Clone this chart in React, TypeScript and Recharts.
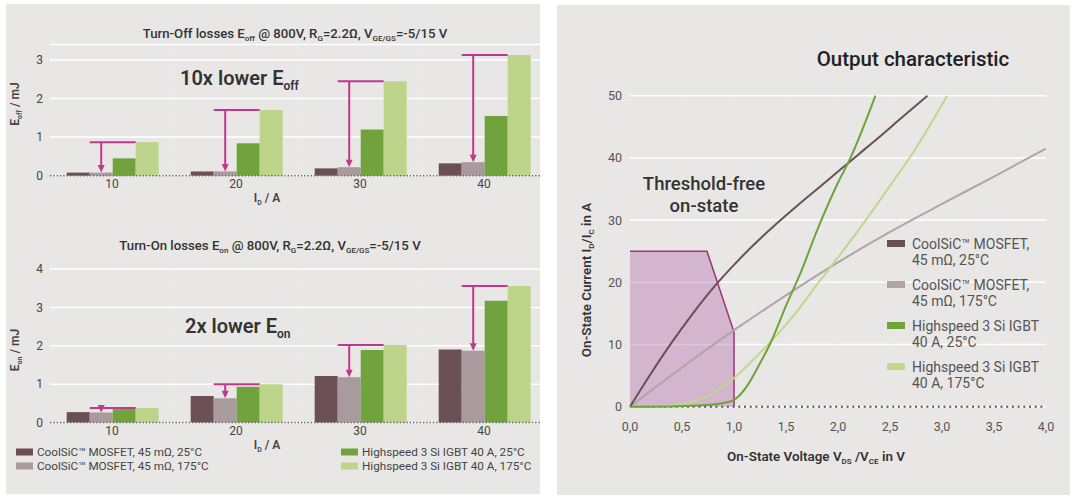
import React from "react";
import {
  BarChart,
  Bar,
  ComposedChart,
  Line,
  Area,
  XAxis,
  YAxis,
  CartesianGrid,
  ReferenceLine,
} from "recharts";

// switching losses, mJ, per drain current
const currents = ["10", "20", "30", "40"];
const eoffMos25 = [0.08, 0.11, 0.19, 0.32];
const eoffMos175 = [0.08, 0.11, 0.22, 0.35];
const eoffIgbt25 = [0.45, 0.84, 1.2, 1.55];
const eoffIgbt175 = [0.87, 1.7, 2.45, 3.13];
const eonMos25 = [0.27, 0.69, 1.21, 1.9];
const eonMos175 = [0.26, 0.63, 1.18, 1.87];
const eonIgbt25 = [0.35, 0.93, 1.89, 3.17];
const eonIgbt175 = [0.38, 1.0, 2.02, 3.56];

// output characteristic, [V, A]
const mos25Curve = [[0, 0], [0.2, 5.3], [0.4, 10.3], [0.6, 14.9], [0.8, 19.1], [1.0, 22.8], [1.2, 26.2], [1.4, 29.3], [1.6, 32.2], [1.8, 35.0], [2.0, 37.8], [2.2, 40.6], [2.4, 43.4], [2.6, 46.3], [2.86, 50]];
const mos175Curve = [[0, 0], [0.5, 6.3], [1.0, 12.3], [1.5, 17.9], [2.0, 23.2], [2.5, 28.1], [3.0, 32.6], [3.5, 37.0], [4.0, 41.5]];
const igbt25Curve = [[0, 0], [0.4, 0.05], [0.77, 0.3], [0.9, 0.6], [1.0, 1.1], [1.12, 3.2], [1.25, 7], [1.35, 10.2], [1.51, 16.6], [1.64, 21.5], [1.8, 28.4], [2.0, 36], [2.12, 40], [2.36, 50]];
const igbt175Curve = [[0, 0], [0.2, 0.03], [0.4, 0.15], [0.6, 0.8], [0.8, 2.2], [1.0, 4.6], [1.2, 7.8], [1.4, 11.3], [1.6, 15.2], [1.8, 19.7], [2.0, 24.0], [2.25, 29.6], [2.5, 35.5], [2.75, 41.6], [3.05, 50]];
const thresholdRegion = [[0, 25], [0.74, 25], [1.0, 12], [1.0, 0]];

const voltTicks = [0, 0.5, 1, 1.5, 2, 2.5, 3, 3.5, 4];
const ampTicks = [0, 10, 20, 30, 40, 50];

const C_MOS25 = "#6a5055";
const C_MOS175 = "#a99a9d";
const C_IGBT25 = "#71a33d";
const C_IGBT175 = "#bdd48b";
const C_ARROW = "#c2378e";
const PANEL = "#e8e7e6";
const FONT = "Roboto, 'Noto Sans', sans-serif";

const lossRows = (a: number[], b: number[], c: number[], d: number[]) =>
  currents.map((id, k) => ({ id, mos25: a[k], mos175: b[k], igbt25: c[k], igbt175: d[k] }));

const toPoints = (pts: number[][]) => pts.map(([v, i]) => ({ v, i }));

// mauve bar plus the magenta "lower by" arrow pointing down from the IGBT 175°C level
const ArrowBar = (props: any) => {
  const { x, y, width, height, payload, fill } = props;
  const base = y + height;
  const ppu = height / payload.mos175;
  const yTop = base - payload.igbt175 * ppu;
  const cx = x + width / 2;
  return (
    <g>
      <rect x={x} y={y} width={width} height={height} fill={fill} />
      <line x1={x} x2={x + 2 * width} y1={yTop} y2={yTop} stroke={C_ARROW} strokeWidth={2} />
      <line x1={cx} x2={cx} y1={yTop} y2={y - 6} stroke={C_ARROW} strokeWidth={2} />
      <path d={`M${cx - 3.5},${y - 7.5} L${cx + 3.5},${y - 7.5} L${cx},${y} Z`} fill={C_ARROW} />
    </g>
  );
};

type LossProps = { data: any[]; max: number; ticks: number[]; height: number; top: number; bottom: number };

const LossChart = ({ data, max, ticks, height, top, bottom }: LossProps) => (
  <BarChart
    width={540}
    height={height}
    data={data}
    margin={{ top, right: 0, bottom, left: 14 }}
    barGap={0}
    barCategoryGap={16.7}
  >
    <CartesianGrid vertical={false} stroke="#ffffff" strokeWidth={1.5} />
    {currents.slice(1).map((c) => (
      <ReferenceLine key={c} x={c} position="start" stroke="#ffffff" strokeDasharray="1 2" strokeOpacity={0.8} />
    ))}
    <XAxis
      dataKey="id"
      tickLine={false}
      axisLine={false}
      tickSize={0}
      tickMargin={4}
      height={20}
      tick={{ fill: "#444", fontSize: 12 }}
    />
    <YAxis
      domain={[0, max]}
      ticks={ticks}
      width={30}
      tickLine={false}
      axisLine={false}
      tickSize={0}
      tickMargin={7}
      tick={{ fill: "#444", fontSize: 12 }}
    />
    <ReferenceLine y={0} stroke="#666" strokeDasharray="1.5 1.8" strokeWidth={1.5} />
    <Bar dataKey="mos25" fill={C_MOS25} isAnimationActive={false} />
    <Bar dataKey="mos175" fill={C_MOS175} shape={ArrowBar} isAnimationActive={false} />
    <Bar dataKey="igbt25" fill={C_IGBT25} isAnimationActive={false} />
    <Bar dataKey="igbt175" fill={C_IGBT175} isAnimationActive={false} />
  </BarChart>
);

// text with subscripts: a one-element array marks a subscript run
const Rich = ({ parts, size, shift = 3 }: { parts: (string | string[])[]; size: number; shift?: number }) => {
  let low = false;
  return (
    <>
      {parts.map((p, k) => {
        const isSub = Array.isArray(p);
        const dy = isSub && !low ? shift : !isSub && low ? -shift : 0;
        low = isSub;
        return (
          <tspan key={k} dy={dy} fontSize={isSub ? size : undefined}>
            {isSub ? p[0] : p}
          </tspan>
        );
      })}
    </>
  );
};

export default function App() {
  const tickStyle = { fill: "#555", fontSize: 12.5 };
  return (
    <div style={{ position: "absolute", left: 0, top: 0, width: 1080, height: 502, background: "#fff", fontFamily: FONT }}>
      {/* left panel: switching losses */}
      <div style={{ position: "absolute", left: 6, top: 4, width: 534, height: 490, background: PANEL, overflow: "hidden" }}>
        <div style={{ position: "absolute", left: 0, top: 0 }}>
          <LossChart
            data={lossRows(eoffMos25, eoffMos175, eoffIgbt25, eoffIgbt175)}
            max={3.4}
            ticks={[0, 1, 2, 3]}
            height={210}
            top={40.5}
            bottom={18.3}
          />
        </div>
        <div style={{ position: "absolute", left: 0, top: 220 }}>
          <LossChart
            data={lossRows(eonMos25, eonMos175, eonIgbt25, eonIgbt175)}
            max={4}
            ticks={[0, 1, 2, 3, 4]}
            height={230}
            top={45}
            bottom={11.5}
          />
        </div>
      </div>

      {/* right panel: output characteristic */}
      <div style={{ position: "absolute", left: 557, top: 5, width: 513, height: 490, background: PANEL, overflow: "hidden" }}>
        <ComposedChart width={513} height={490} margin={{ top: 90.7, right: 24, bottom: 58.3, left: 33 }}>
          <CartesianGrid horizontal={false} stroke="#ffffff" strokeDasharray="1 3" strokeOpacity={0.7} />
          <CartesianGrid vertical={false} stroke="#ffffff" strokeWidth={1.5} />
          <XAxis
            dataKey="v"
            type="number"
            domain={[0, 4]}
            ticks={voltTicks}
            tickFormatter={(v: number) => v.toFixed(1).replace(".", ",")}
            tickLine={false}
            axisLine={false}
            tickSize={0}
            tickMargin={15}
            height={30}
            tick={tickStyle}
          />
          <YAxis
            domain={[0, 50]}
            ticks={ampTicks}
            width={40}
            tickLine={false}
            axisLine={false}
            tickSize={0}
            tickMargin={8}
            tick={tickStyle}
          />
          <ReferenceLine y={0} stroke="#555" strokeDasharray="2 3.7" strokeWidth={2} />
          <Area
            data={toPoints(thresholdRegion)}
            dataKey="i"
            type="linear"
            baseValue={0}
            fill="#ac589f"
            fillOpacity={0.35}
            stroke="#a0307c"
            strokeWidth={1.5}
            isAnimationActive={false}
          />
          <Line data={toPoints(mos175Curve)} dataKey="i" type="monotone" stroke="#b3a3a7" strokeWidth={2} dot={false} isAnimationActive={false} />
          <Line data={toPoints(igbt175Curve)} dataKey="i" type="monotone" stroke="#bfd98a" strokeWidth={2} dot={false} isAnimationActive={false} />
          <Line data={toPoints(mos25Curve)} dataKey="i" type="monotone" stroke={C_MOS25} strokeWidth={2} dot={false} isAnimationActive={false} />
          <Line data={toPoints(igbt25Curve)} dataKey="i" type="monotone" stroke="#6aa535" strokeWidth={2} dot={false} isAnimationActive={false} />
        </ComposedChart>
      </div>

      {/* text layer */}
      <svg width={1080} height={502} style={{ position: "absolute", left: 0, top: 0, pointerEvents: "none" }}>
        <g fill="#333" fontWeight={500} fontSize={13.2}>
          <text x={295} y={37.5} textAnchor="middle">
            <Rich size={8} parts={["Turn-Off losses E", ["off"], " @ 800V, R", ["G"], "=2.2Ω, V", ["GE/GS"], "=-5/15 V"]} />
          </text>
          <text x={270} y={249.5} textAnchor="middle">
            <Rich size={8} parts={["Turn-On losses E", ["on"], " @ 800V, R", ["G"], "=2.2Ω, V", ["GE/GS"], "=-5/15 V"]} />
          </text>
        </g>
        <g fill="#333" fontWeight={600} fontSize={20}>
          <text x={180} y={85}>
            <Rich size={12} shift={5} parts={["10x lower E", ["off"]]} />
          </text>
          <text x={185} y={333}>
            <Rich size={12} shift={5} parts={["2x lower E", ["on"]]} />
          </text>
        </g>
        <g fill="#444" fontWeight={600} fontSize={12}>
          <text x={267} y={202} textAnchor="middle">
            <Rich size={7} parts={["I", ["D"], " / A"]} />
          </text>
          <text x={267} y={449} textAnchor="middle">
            <Rich size={7} parts={["I", ["D"], " / A"]} />
          </text>
          <text transform="translate(19,104) rotate(-90)" textAnchor="middle">
            <Rich size={7} parts={["E", ["off"], " / mJ"]} />
          </text>
          <text transform="translate(19,350) rotate(-90)" textAnchor="middle">
            <Rich size={7} parts={["E", ["on"], " / mJ"]} />
          </text>
        </g>
        <g fontSize={11.7} fill="#444">
          <rect x={16} y={448.5} width={17} height={7} fill={C_MOS25} />
          <text x={37} y={456}>CoolSiC™ MOSFET, 45 mΩ, 25°C</text>
          <rect x={16} y={462.5} width={17} height={7} fill={C_MOS175} />
          <text x={37} y={470}>CoolSiC™ MOSFET, 45 mΩ, 175°C</text>
          <rect x={341} y={448.5} width={17} height={7} fill={C_IGBT25} />
          <text x={362} y={456}>Highspeed 3 Si IGBT 40 A, 25°C</text>
          <rect x={341} y={462.5} width={17} height={7} fill={C_IGBT175} />
          <text x={362} y={470}>Highspeed 3 Si IGBT 40 A, 175°C</text>
        </g>

        <text x={913} y={65.5} textAnchor="middle" fill="#222" fontSize={20.5} fontWeight={500}>
          Output characteristic
        </text>
        <g fill="#333" fontSize={18.5} fontWeight={500} textAnchor="middle">
          <text x={704} y={189.5}>Threshold-free</text>
          <text x={704} y={211.5}>on-state</text>
        </g>
        <g fill="#333" fontSize={13.4} fontWeight={600}>
          <text x={816} y={460.5} textAnchor="middle">
            <Rich size={8} parts={["On-State Voltage V", ["DS"], " /V", ["CE"], " in V"]} />
          </text>
          <text transform="translate(591,280) rotate(-90)" textAnchor="middle">
            <Rich size={8} parts={["On-State Current I", ["D"], "/I", ["C"], " in A"]} />
          </text>
        </g>
        <g fontSize={14} fill="#555">
          <rect x={887} y={240} width={18} height={7} fill={C_MOS25} />
          <text x={912} y={248.5}>CoolSiC™ MOSFET,</text>
          <text x={912} y={265}>45 mΩ, 25°C</text>
          <rect x={887} y={281} width={18} height={7} fill="#b3a3a7" />
          <text x={912} y={289.5}>CoolSiC™ MOSFET,</text>
          <text x={912} y={306}>45 mΩ, 175°C</text>
          <rect x={887} y={322} width={18} height={7} fill={C_IGBT25} />
          <text x={912} y={330.5}>Highspeed 3 Si IGBT</text>
          <text x={912} y={347}>40 A, 25°C</text>
          <rect x={887} y={363} width={18} height={7} fill="#bfd98a" />
          <text x={912} y={371.5}>Highspeed 3 Si IGBT</text>
          <text x={912} y={388}>40 A, 175°C</text>
        </g>
      </svg>
    </div>
  );
}
